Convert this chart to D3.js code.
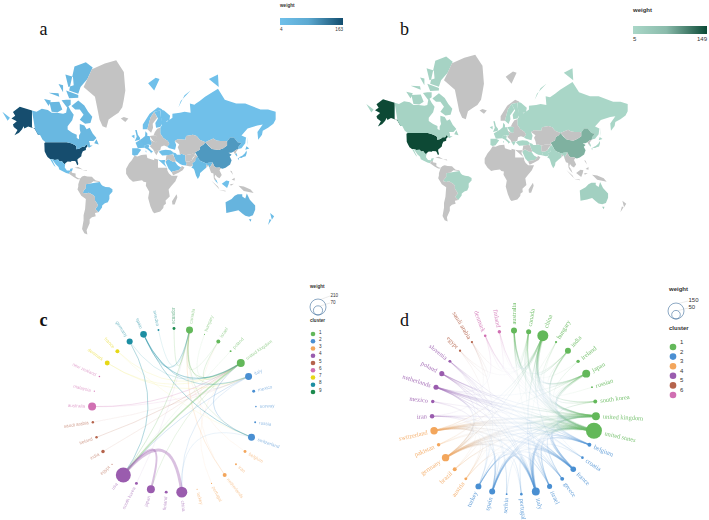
<html>
<head>
<meta charset="utf-8">
<style>
    body { margin: 0; background: #fff; }
    svg { display: block; }
    text { font-family: "Liberation Sans", sans-serif; fill: #333; }
</style>
</head>
<body>
<svg id="fig" width="709" height="520"></svg>
<script src="https://cdn.jsdelivr.net/npm/d3@7"></script>
<script>
// country outlines, lon/lat, rough by hand
let outlines = {
    "united states": [
        [[-124.7,48.4],[-123,49],[-95.2,49],[-89.5,48],[-84.5,46.5],[-82.5,45.3],[-82.5,42.5],[-79,43],[-76.5,44],[-75,45],[-71.5,45],[-69.5,47.3],[-67.5,45.5],[-70,43.5],[-70,41.7],[-74,40.6],[-75.5,38],[-76,35.5],[-78,33.9],[-81,32],[-81,30],[-80,26.8],[-80.5,25.2],[-81.8,26],[-82.8,28.5],[-84,30],[-89,30.2],[-89.5,29.2],[-94,29.6],[-97.2,27.5],[-97.3,26],[-99.5,27.5],[-101.5,29.8],[-104.5,29.6],[-106.5,31.8],[-111,31.3],[-114.8,32.5],[-117.2,32.5],[-120.5,34.5],[-122.5,37.5],[-124.3,40.5],[-124,44]],
        [[-141,69.6],[-141,60.3],[-137,58.9],[-133,55],[-130.5,55],[-135,59.5],[-140,59.8],[-146,60.8],[-151,59.5],[-152,61],[-154,59],[-158,56.5],[-164,54.6],[-160,58.5],[-165,60.5],[-166,62],[-161,64],[-168,65.6],[-163,67],[-166,68.8],[-157,71.2],[-150,70.5]]
    ],
    "canada": [
        [[-141,69.6],[-135,69],[-128,70.3],[-120,69.8],[-115,68.5],[-108,68.5],[-100,68],[-96,68.5],[-94,72],[-90,69.5],[-86,67.5],[-88,64.5],[-94,61],[-94,58.8],[-88,56.5],[-82,55],[-82,52.5],[-79,51.5],[-79,54.5],[-77,56.5],[-78,59],[-78,62.3],[-72,61.5],[-69,59],[-65,60],[-61,56],[-56,52.5],[-60,50],[-66,50],[-65,48.5],[-64.5,46],[-61,46],[-66,44],[-67.5,45.5],[-69.5,47.3],[-71.5,45],[-75,45],[-76.5,44],[-79,43],[-82.5,42.5],[-82.5,45.3],[-84.5,46.5],[-89.5,48],[-95.2,49],[-123,49],[-127,51],[-130.5,55],[-133,55],[-137,58.9],[-141,60.3]],
        [[-80,73.7],[-72,71.7],[-67,69],[-61.5,66.5],[-64,63],[-71,62.5],[-78,64.8],[-73,67.5],[-78,70],[-84,70],[-89,71.5],[-89,73.5]],
        [[-118,73],[-105,73.2],[-101,70],[-107,68.7],[-115,69],[-118,71]],
        [[-92,77],[-80,76],[-77,78],[-68,80],[-61,82.3],[-70,83.2],[-85,82.5],[-94,81]],
        [[-125,74.2],[-116,73.7],[-119,71.5],[-125,71.8]],
        [[-96,77],[-80,75.6],[-80,74.7],[-92,74.5],[-96,75]],
        [[-119,76.3],[-106,76.2],[-105,75],[-115,74.5]],
        [[-102,73.8],[-96,74],[-90,74],[-90,72],[-95,71],[-101,71.5]],
        [[-87,65.8],[-81,64],[-85,62.8]],
        [[-59,48],[-56,51.5],[-53,47],[-56,47]],
        [[-128,50.8],[-123.5,48.5],[-125,49]],
        [[-97,81],[-87,80.5],[-86,78.5],[-93,78],[-96,79]],
        [[-123,77],[-115,77.8],[-117,75.7]],
        [[-106,78.8],[-100,78.5],[-100,76.5],[-104,76.3]]
    ],
    "mexico": [
        [[-114.8,32.5],[-111,31.3],[-106.5,31.8],[-104.5,29.6],[-101.5,29.8],[-99.5,27.5],[-97.3,26],[-97.8,22.5],[-95,18.8],[-91,18.7],[-90.5,21],[-87,21.5],[-88.2,18],[-91,17],[-92.2,14.5],[-96,15.7],[-105,20],[-106,23],[-109.5,26],[-112.5,29.5]],
        [[-117.2,32.5],[-114.8,32],[-112,27],[-109.8,23],[-112,25],[-115,29]]
    ],
    "brazil": [
        [[-51.5,4],[-50,1],[-48,-1],[-44,-2.5],[-39,-3],[-35,-5.5],[-35,-9],[-39,-13],[-39,-18],[-41,-22],[-45,-23.5],[-48.5,-26],[-48.7,-28.5],[-53.4,-33.8],[-57.5,-30],[-54,-26],[-55,-24],[-58,-20],[-58,-16],[-60,-13.5],[-66,-10],[-70,-11],[-74,-10],[-73,-7.5],[-70,-4],[-70,1],[-64,2],[-60,5]]
    ],
    "russia": [
        [[28,70],[33,69.5],[41,67],[40,64.5],[35,64],[37,63.8],[44,66],[44,68],[54,68.5],[60,69],[68,68.5],[67,72.5],[73,72],[75,72.5],[80,73.5],[87,75],[104,77.5],[113,74],[128,72.5],[140,72.5],[160,70],[170,70],[180,69],[180,65],[177,62.5],[170,60],[163,58],[162,55],[157,51],[156,57],[163,62],[156,61.5],[143,59.5],[135,54.5],[141,53],[140,48],[135,43.5],[132,43],[130.5,42.5],[131,45],[135,48.4],[130,49],[125,53],[120,53],[116,49.5],[114,50],[107,50],[102,50.5],[98,52],[92,50.5],[87.5,49],[80,51],[76,54],[71,55],[62,54],[61,51],[51,51.5],[47,50],[49,46.5],[47.5,42],[40,43.5],[37,45],[40,47.5],[38,50],[32,52.5],[28,56],[28,60],[30,61.5],[29,66]],
        [[-180,69],[-175,67.5],[-170,66],[-173,64.3],[-180,65]],
        [[142,54],[143,49],[143,46],[142,47]],
        [[52,71],[55,73.5],[68,77],[60,75.5],[57,71]],
        [[92,80],[104,81],[105,78],[98,78]],
        [[137,75.5],[150,75.5],[145,74]],
        [[48,80.5],[62,81],[58,80]]
    ],
    "china": [
        [[73.8,39.5],[80,42],[80.5,45],[85,47],[87.5,49],[91,46],[96,42.8],[105,41.7],[111,43.5],[116,46],[116,49.5],[120,53],[125,53],[130,49],[135,48.4],[131,45],[130.5,42.5],[128,42],[124.5,40],[121.5,39],[118,39],[122,37],[119.5,35],[122,31],[120,26],[114,22.3],[110,21],[108,21.5],[106,22.5],[102,22],[99,24],[97,28.5],[92,28],[88,27.5],[81,30],[78.5,32.5],[77,35.5],[74.5,37]]
    ],
    "india": [
        [[74,34.5],[77,35.5],[78.5,32.5],[81,30],[88,27.5],[92,28],[97,28.5],[95,25],[92.5,22],[91.5,25],[89,26],[88.5,22],[85,19.5],[80.5,15.5],[80,12],[77.5,8],[75,12.5],[73,19],[72,21],[69,22.5],[71,24.5],[70,27.5],[74,30],[74.5,32]]
    ],
    "japan": [
        [[130.9,34],[136,36],[139.5,38.5],[141.5,41.3],[142,39],[140.5,35.5],[137,34.6],[135,33.6],[132,33.5]],
        [[130,33.5],[131.8,33.3],[131,31],[130.2,31.3]],
        [[140,42],[141.5,45.4],[145.3,43.3],[143,42]]
    ],
    "south korea": [[[126.3,37.7],[128.5,38.5],[129.5,36],[129,35],[126.3,34.5]]],
    "north korea": [[[124.5,40],[128,42],[130.5,42.5],[127.5,39.5],[128.5,38.5],[126.3,37.7],[125,38]]],
    "australia": [
        [[114,-22],[122,-18],[126,-14],[130,-12],[136,-12],[136,-15],[140,-17.5],[142,-11],[146,-19],[153,-26],[153,-31],[150,-37],[145,-38.5],[140,-37.5],[136,-35],[131,-31.5],[124,-33],[115,-34.5],[115,-30]],
        [[144.7,-41],[148,-41],[147,-43.5],[146,-43.5]]
    ],
    "new zealand": [
        [[172.7,-34.5],[178,-38],[175,-41.5],[174,-39]],
        [[172,-40.7],[174.3,-41.7],[170,-46.5],[166.7,-46]]
    ],
    "united kingdom": [[[-5,58.5],[-3,58.5],[-1.5,55],[1.5,52.5],[1,51],[-5.5,50],[-3,53.5],[-5,55]]],
    "ireland": [[[-10,54],[-6,55],[-6,52.2],[-10,51.7]]],
    "france": [[[-1.5,43.5],[-4.5,48.5],[1.5,51],[8,49],[7,44],[3,43]]],
    "spain": [[[-9,43.5],[-1.5,43.5],[3,42],[0,39],[-2,36.8],[-6,36],[-9,37],[-9.5,39]]],
    "germany": [[[1.5,51],[4,52],[8,54],[8.5,57.5],[11,56],[11,54],[14,54],[15,51],[17,48.5],[16,46.5],[12,47],[7,46],[8,49]]],
    "italy": [
        [[7,44],[7,46],[12,47],[13.7,45.5],[12.5,44],[16,41.5],[18.5,40],[16,39],[16,38],[15,40],[11,42.5],[9,44.2]],
        [[12.5,38],[15.5,38],[15,36.7]],
        [[8.3,41],[9.7,41],[9.5,39],[8.5,39]]
    ],
    "norway": [
        [[5,59],[5,62],[14,68],[25,71],[31,70],[28,69.5],[20,69],[15,66],[12,61],[11,59],[8,58]],
        [[12,79],[22,80.3],[27,80],[20,77],[15,77]]
    ],
    "sweden": [[[11,59],[12,61],[15,66],[20,69],[24,66],[18,62.5],[18.5,60],[16,56.5],[13,55.5]]],
    "finland": [[[20,69],[28,69.5],[29,66],[31,63],[28,60.5],[22.5,60],[21.5,63],[25,65.5],[24,66]]],
    "poland": [[[14,54],[19,54.5],[23.5,54],[24,50.5],[22.5,49],[19,49.5],[15,51]]],
    "eastern europe": [[[23.5,54],[19,54.5],[21,57],[24,59.3],[28,60],[28,56],[32,52.5],[38,50],[40,47.5],[37,45],[33,46],[29,45],[28,41.5],[26,41],[24,41],[20,40],[19,42],[14,45.5],[16,46.5],[17,48.5],[15,51],[19,49.5],[22.5,49],[24,50.5]]],
    "greece": [[[20,40],[24,41],[26,41],[24,38],[23,36.5],[21,38.5]]],
    "turkey": [[[26,40],[29,41.2],[35,42],[41.5,41.5],[44.7,39.7],[44.5,37.2],[36.2,36.5],[30.5,36.3],[27,37]]],
    "iran": [[[44.5,39.5],[48.5,38.5],[50,37],[54,37],[56,38],[61,36.5],[61,31],[63,27],[61.5,25],[57,25.5],[54,26.7],[50.5,29],[48.5,30],[46,35],[44.5,37.2]]],
    "pakistan": [[[74.5,37],[77,35.5],[74.5,32],[74,30],[70,27.5],[71,24.5],[67.5,23.8],[61.5,25],[63,27],[61,29.5],[66,29.5],[69.5,31],[71,34]]],
    "afghanistan": [[[61,36.5],[66,37.3],[71,38],[74.5,37],[71,34],[69.5,31],[66,29.5],[61,29.5],[61,31]]],
    "saudi arabia": [[[34.8,29.4],[38,32],[39,32],[44.5,29.2],[47.5,29],[48.5,28],[50,26],[51.5,24.5],[55.5,22.5],[52,19],[44,17.5],[43,16.5],[39,21],[37,25]]],
    "yemen oman": [[[43,16.5],[44,17.5],[52,19],[55.5,22.5],[56.3,24.5],[59.8,22.5],[57.5,19],[52,16],[45,12.8],[43.3,12.8]]],
    "iraq syria": [[[36.2,36.5],[44.5,37.2],[46,35],[48.5,30],[47.5,29],[44.5,29.2],[39,32],[38,32],[34.8,29.4],[35.5,33],[36,35]]],
    "egypt": [[[25,31.7],[29,31],[32.5,31.2],[34.3,31.3],[34,27.8],[32.7,29.7],[35.5,24],[37,22],[25,22]]],
    "africa": [
        [[-17,14.7],[-17,21],[-13,27.5],[-9.5,31],[-6,35.8],[-2,35],[3,36.8],[10,37.3],[11,33.5],[15,32.3],[20,31],[20,32.8],[25,31.7],[25,22],[37,22],[37.5,18.5],[39.5,15],[43,12],[51,12],[48,5],[42,-2],[39,-6],[40.5,-15],[35,-20],[35.5,-24],[32.5,-26],[32,-29],[28,-33],[20,-34.8],[18,-33],[15,-27],[12,-17],[13.5,-9],[9,-1],[9.5,3.5],[6,4.3],[4,6.3],[-4,5],[-8,4.3],[-13,8.5],[-17,12.5]],
        [[49.5,-12],[50.5,-16],[47,-25],[44,-25],[43.5,-21],[44.5,-16]]
    ],
    "south america": [[[-77.5,8.5],[-75,11],[-72,12],[-68,11],[-62,10.7],[-60,8.5],[-57,6],[-52,5],[-51.5,4],[-60,5],[-64,2],[-70,1],[-70,-4],[-73,-7.5],[-74,-10],[-70,-11],[-66,-10],[-60,-13.5],[-58,-16],[-58,-20],[-55,-24],[-54,-26],[-57.5,-30],[-53.4,-33.8],[-58,-34.5],[-57,-38],[-62,-39],[-65,-41],[-65,-45],[-69,-51],[-68,-54.5],[-72,-53.5],[-75,-50],[-73,-42],[-73,-37],[-71,-30],[-70,-18],[-76,-14],[-81,-6],[-80,-2],[-80,1],[-77.5,4]]],
    "central america": [
        [[-92.2,14.5],[-91,17],[-88.2,18],[-88.5,16],[-83.5,15],[-83.5,11],[-80,9],[-77.5,8.5],[-78.5,7.5],[-81,7.5],[-85.5,10],[-87.5,13]],
        [[-85,22],[-80,23],[-74,20],[-78,20]],
        [[-74.5,19.5],[-69,19.5],[-68.5,18.3],[-74,18]]
    ],
    "greenland": [[[-73,78],[-68,80],[-62,82],[-45,83],[-30,83.5],[-20,81.5],[-18,77],[-20,74],[-22,71],[-27,68.5],[-33,67],[-40,65],[-43,60],[-48,61],[-52,65],[-54,69],[-58,75],[-68,76]]],
    "iceland": [[[-24,65.5],[-20,66.3],[-14,65.5],[-18,63.5],[-22,64]]],
    "central asia": [[[47,50],[51,51.5],[61,51],[62,54],[71,55],[76,54],[80,51],[87.5,49],[85,47],[80.5,45],[80,42],[73.8,39.5],[74.5,37],[71,38],[66,37.3],[61,36.5],[56,38],[54,37],[53,41],[51,44.5],[53,47],[49,46.5]]],
    "mongolia": [[[87.5,49],[92,50.5],[98,52],[102,50.5],[107,50],[114,50],[116,49.5],[116,46],[111,43.5],[105,41.7],[96,42.8],[91,46]]],
    "southeast asia": [
        [[92.5,22],[95,25],[97,28.5],[99,24],[102,22],[106,22.5],[108,21.5],[106,19],[109,13],[106,9],[103,10.5],[100.5,13.5],[99.5,10],[102,6.5],[100,6],[98.5,9],[98,15],[95,16],[94,18.5]],
        [[88.5,22],[89,26],[91.5,25],[92.5,22]],
        [[80,9.5],[82,7],[80.5,6]]
    ],
    "malaysia": [
        [[100,6],[102,6.5],[104,1.5],[101,3]],
        [[109,1.5],[115,6],[119,5],[118,1],[116,-4],[110,-3]]
    ],
    "indonesia": [
        [[95.5,5.5],[104,-2],[106,-6],[102,-4]],
        [[105.5,-6.5],[114,-7.5],[114,-8.5],[106,-7.8]],
        [[120,1],[125,1.5],[121,-1],[123,-5],[120,-5.5]],
        [[131,-1],[138,-2],[147,-6],[151,-10.5],[143,-9],[138,-8],[133,-4]],
        [[120,18.5],[122,18],[124,13],[120,14]],
        [[122,7],[126,9.5],[126,6],[123,6.5]],
        [[120,23],[121.5,25.2],[121,22]]
    ]
};

let mapCountries = ["united states","china","canada","australia","india","united kingdom","germany","italy","france","spain","japan","brazil","russia","mexico","turkey","iran","saudi arabia","egypt","south korea","norway","finland","ireland","malaysia","greece","poland","pakistan","sweden","new zealand"];
let weightsA = [163,58,15,20,10,9,9,8,8,8,9,8,4,5,6,5,5,4,6,4,4,4,4,null,null,null,null,8];
let weightsB = [149,44,9,12,8,8,7,7,7,7,6,8,6,6,6,6,6,null,6,null,6,6,null,6,6,6,6,null];

// panel c, links take the colour of their first node
let labelsC = ["ecuador","canada","hungary","israel","poland","united kingdom","italy","mexico","norway","russia","switzerland","belgium","iran","netherlands","portugal","turkey","china","finland","japan","south korea","usa","egypt","india","ireland","saudi arabia","australia","malaysia","new zealand","denmark","france","germany","spain","sweden"];
let clusterC = [9,1,1,1,1,1,2,2,2,2,2,3,3,3,3,3,4,4,4,4,4,5,5,5,5,6,6,6,7,7,8,8,8];
let weightC = [7,40,1,13,3,52,40,7,2,3,40,7,3,13,1,1,99,7,52,7,184,1,10,5,5,52,1,2,20,13,30,36,3];
let linksC = [[20,16,3],[20,18,2],[5,20,1.5],[30,20,.9],[31,5,1.1],[31,6,.7],[31,10,.9],[30,5,.4],[31,1,.8],[1,0,.5],[1,20,.6],[1,5,.7],[1,10,.4],[1,3,.3],[1,6,.4],[10,5,.7],[5,3,.5],[5,6,.3],[5,18,.4],[6,20,.6],[6,16,.4],[25,5,.6],[25,6,.3],[23,5,.5],[22,5,.3],[28,5,.3],[28,6,.3],[29,5,.3],[29,10,.2],[13,1,.5],[13,3,.2],[14,5,.2],[11,1,.2],[2,5,.2],[4,20,.2],[32,1,.3],[24,6,.2],[19,1,.2],[10,16,.3]];

// panel d
let labelsD = ["australia","canada","china","hungary","india","ireland","japan","russian","south korea","united kingdom","united states","belgium","croatia","france","greece","israel","italy","portugal","serbia","spain","turkey","austria","brazil","germany","pakistan","switzerland","iran","mexico","netherlands","poland","slovenia","egypt","saudi arabia","denmark","finland"];
let clusterD = [1,1,1,1,1,1,1,1,1,1,1,2,2,2,2,2,2,2,2,2,2,3,3,3,3,3,4,4,4,4,4,5,5,6,6];
let weightD = [21,15,71,3,21,7,37,2,9,37,150,9,4,18,9,15,37,4,2,21,21,5,9,32,7,32,12,7,15,15,5,3,3,4,7];
let linksD = [
    [10,2,3],[10,9,4],[10,16,2.5],[10,13,2.2],[10,23,2.2],[10,19,1.8],[10,25,2.2],[10,28,1.8],[10,6,2.2],[10,0,1.3],[10,1,1.3],[10,4,1.3],[10,8,.9],[10,11,1.8],[10,15,1.3],[10,20,.9],[10,26,.7],[10,29,.9],[10,22,.9],[10,24,.5],[10,14,.7],[10,21,.5],[10,34,.4],[10,33,.4],[10,27,.4],
    [2,9,1.8],[2,6,1.3],[2,0,1.3],[2,4,.9],[2,1,.9],[2,23,.9],[2,16,1],[2,13,.9],[2,8,.9],[2,25,.9],[2,32,.3],[2,31,.3],[2,24,.5],
    [9,16,1.8],[9,13,1.8],[9,23,2],[9,19,1.3],[9,25,1.8],[9,28,1.3],[9,11,1.3],[9,0,.9],[9,1,.9],[9,6,.9],[9,4,.7],[9,14,.7],[9,15,.7],[9,20,.7],[9,29,.9],[9,5,.5],[9,34,.4],[9,33,.5],
    [16,13,1.8],[16,19,1.6],[16,23,1.6],[16,25,1.4],[16,28,1],[16,11,1.2],[16,14,1],[16,20,.9],[16,15,.9],[16,17,.7],[16,18,.5],[16,29,.9],[16,30,.7],[16,12,.6],[16,21,.6],[16,3,.4],
    [13,19,1.2],[13,23,1.6],[13,25,1.3],[13,28,1],[13,11,1.3],[13,14,.6],[13,15,.5],[13,20,.5],[13,29,.7],[13,26,.4],
    [23,25,1.3],[23,28,1.3],[23,21,.9],[23,29,.7],[23,19,.9],[23,11,.9],[23,24,.5],[23,22,.6],[23,26,.5],[23,30,.4],
    [28,11,1],[28,19,.8],[28,6,.5],[29,30,.5],[29,12,.4],[29,18,.4],[30,12,.7],[30,18,.5],[30,14,.3],
    [25,19,.9],[25,11,.9],[25,6,.6],[25,21,.5],[25,14,.4],[19,17,.8],[19,20,.7],[19,15,.7],[19,14,.6],[19,11,.7],
    [20,15,.6],[20,26,.5],[20,14,.5],[20,31,.3],[20,32,.4],[15,14,.4],[15,1,.6],[15,0,.4],
    [1,0,.7],[1,6,.4],[1,4,.4],[1,34,.3],[1,33,.3],[0,6,.6],[0,4,.6],[0,8,.3],[0,5,.3],[6,8,.8],[6,4,.5],[6,7,.3],[6,3,.2],
    [27,22,.4],[27,19,.3],[26,24,.3],[26,32,.3],[31,32,.4],[34,33,.4],[33,28,.5],[3,21,.3],[3,12,.3],[17,22,.3]
];

let clusterColors = ["#63b85a","#4a8fd2","#f3a65c","#9a5cae","#b5644c","#d06fb2","#e6d816","#1d8ea2","#1c8a4e"];
let greyLand = "#c3c3c3";

let svg = d3.select("#fig");
let defs = svg.append("defs");
let gradCount = 0;

defs.append("filter").attr("id", "soft")
    .append("feGaussianBlur").attr("stdDeviation", 0.35);

function drawMap(k, cx, cy, weights, lowColor, highColor, legend){
    let projection = d3.geoMercator().scale(k).translate([cx, cy]);
    // the outlines are planar shapes, no need for spherical clipping
    let planar = d3.geoTransform({
        point: function(x, y){
            let p = projection([x, y]);
            this.stream.point(p[0], p[1]);
        }
    });
    let path = d3.geoPath(planar);
    let color = d3.scaleLinear().domain(legend.domain).range([lowColor, highColor]);

    let features = Object.keys(outlines).map(name => ({
        type: "Feature",
        properties: { name: name },
        geometry: { type: "MultiPolygon", coordinates: outlines[name].map(p => [p]) }
    }));

    svg.append("g").attr("filter", "url(#soft)").selectAll("path")
        .data(features)
        .enter()
        .append("path")
        .attr("d", path)
        .attr("fill", d => {
            let i = mapCountries.indexOf(d.properties.name);
            return (i < 0 || weights[i] === null) ? greyLand : color(weights[i]);
        });

    // colour bar
    let id = "bar" + (gradCount++);
    let grad = defs.append("linearGradient").attr("id", id);
    grad.append("stop").attr("offset", "0%").attr("stop-color", lowColor);
    grad.append("stop").attr("offset", "45%").attr("stop-color", color(legend.domain[0] + (legend.domain[1] - legend.domain[0]) * 0.2));
    grad.append("stop").attr("offset", "100%").attr("stop-color", highColor);

    svg.append("text").attr("x", legend.x).attr("y", legend.titleY)
        .attr("font-size", legend.font).attr("font-weight", "bold").text("weight");
    svg.append("rect").attr("x", legend.x).attr("y", legend.y)
        .attr("width", legend.w).attr("height", legend.h).attr("fill", "url(#" + id + ")");
    svg.append("text").attr("x", legend.x).attr("y", legend.y + legend.h + legend.font + 1)
        .attr("font-size", legend.font).text(legend.domain[0]);
    svg.append("text").attr("x", legend.x + legend.w).attr("y", legend.y + legend.h + legend.font + 1)
        .attr("font-size", legend.font).attr("text-anchor", "end").text(legend.domain[1]);
}

function drawChord(cx, cy, R, labels, clusters, weights, links, opts){
    let angle = d3.scaleLinear().domain([0, labels.length]).range([0, 2 * Math.PI]);
    let size = d3.scaleSqrt().domain([0, opts.maxWeight]).range([0, 8]);
    let nodes = labels.map((name, i) => {
        let a = angle(i);
        return {
            name: name, a: a,
            x: cx + R * Math.sin(a),
            y: cy - R * Math.cos(a),
            r: size(weights[i]),
            color: clusterColors[clusters[i] - 1]
        };
    });

    let g = svg.append("g").attr("filter", "url(#soft)");

    // thin ones first so the heavy links stay on top
    let sorted = links.slice().sort((a, b) => a[2] - b[2]);
    sorted.forEach(l => {
        let s = nodes[l[0]], t = nodes[l[1]];
        let stroke = s.color, strokeOpacity = opts.endOpacity;
        if(opts.fade){
            let id = "lk" + (gradCount++);
            let grad = defs.append("linearGradient").attr("id", id)
                .attr("gradientUnits", "userSpaceOnUse")
                .attr("x1", s.x).attr("y1", s.y).attr("x2", t.x).attr("y2", t.y);
            grad.append("stop").attr("offset", "0%").attr("stop-color", s.color).attr("stop-opacity", opts.endOpacity);
            grad.append("stop").attr("offset", "50%").attr("stop-color", opts.midColor).attr("stop-opacity", opts.midOpacity);
            grad.append("stop").attr("offset", "100%").attr("stop-color", t.color).attr("stop-opacity", opts.endOpacity);
            stroke = "url(#" + id + ")";
            strokeOpacity = 1;
        }

        // control point a bit short of the centre, keeps the arcs round
        let mx = (s.x + t.x) / 2, my = (s.y + t.y) / 2;
        let p = d3.path();
        p.moveTo(s.x, s.y);
        p.quadraticCurveTo(cx + (mx - cx) * 0.1, cy + (my - cy) * 0.1, t.x, t.y);
        g.append("path")
            .attr("d", p.toString())
            .attr("fill", "none")
            .attr("stroke", stroke)
            .attr("stroke-opacity", strokeOpacity)
            .attr("stroke-width", l[2]);
    });

    g.selectAll("circle")
        .data(nodes)
        .enter()
        .append("circle")
        .attr("cx", d => d.x)
        .attr("cy", d => d.y)
        .attr("r", d => d.r)
        .attr("fill", d => d.color);

    svg.append("g").selectAll("text")
        .data(nodes)
        .enter()
        .append("text")
        .attr("transform", d => {
            let deg = d.a * 180 / Math.PI - 90;
            let off = R + d.r + 3;
            let x = cx + off * Math.sin(d.a), y = cy - off * Math.cos(d.a);
            if(d.a > Math.PI) deg += 180;
            return "translate(" + x + "," + y + ") rotate(" + deg + ")";
        })
        .attr("text-anchor", d => d.a > Math.PI ? "end" : "start")
        .attr("dy", "0.32em")
        .attr("font-size", opts.labelSize)
        .attr("opacity", opts.labelOpacity)
        .style("font-family", opts.labelFont)
        .style("fill", d => d.color)
        .text(d => d.name);
}

function drawClusterLegend(l){
    svg.append("text").attr("x", l.x).attr("y", l.titleY)
        .attr("font-size", l.font).attr("font-weight", "bold").text("weight");
    let cy = l.sizeY;
    [l.big, l.small].forEach((r, i) => {
        svg.append("circle").attr("cx", l.sizeX).attr("cy", cy - r)
            .attr("r", r).attr("fill", "none").attr("stroke", "#3f6f9c").attr("stroke-width", 0.6);
        svg.append("line")
            .attr("x1", l.sizeX + r * 0.4).attr("y1", cy - 2 * r + 0.3)
            .attr("x2", l.sizeX + l.big + 4).attr("y2", l.valueY[i] - 1)
            .attr("stroke", "#bbb").attr("stroke-width", 0.3);
        svg.append("text").attr("x", l.sizeX + l.big + 4.5).attr("y", l.valueY[i])
            .attr("font-size", l.font).text(l.values[i]);
    });
    svg.append("text").attr("x", l.x).attr("y", l.clusterY)
        .attr("font-size", l.font).attr("font-weight", "bold").text("cluster");

    let rows = d3.scaleLinear().domain([0, 1]).range([l.rowY, l.rowY + l.rowStep]);
    d3.range(l.count).forEach(i => {
        svg.append("circle").attr("cx", l.dotX).attr("cy", rows(i))
            .attr("r", l.dotR).attr("fill", clusterColors[i]);
        svg.append("text").attr("x", l.numX).attr("y", rows(i) + l.numDy)
            .attr("font-size", l.font).text(i + 1);
    });
}

drawMap(43.5, 139, 185, weightsA, "#6fc0ea", "#124d6e",
    { domain: [4, 163], x: 280, titleY: 6.5, y: 18, w: 63, h: 7, font: 4.6 });
drawMap(41.6, 497, 174, weightsB, "#aad7c8", "#0b4a36",
    { domain: [5, 149], x: 633, titleY: 12, y: 26, w: 74, h: 8, font: 6 });

drawChord(174, 410.5, 82, labelsC, clusterC, weightC, linksC, {
    maxWeight: 210, labelSize: 4.6, labelFont: "Liberation Sans",
    labelOpacity: 0.6, endOpacity: 0.38, fade: false
});
drawChord(514, 412.5, 82, labelsD, clusterD, weightD, linksD, {
    maxWeight: 150, labelSize: 6.4, labelFont: "Liberation Serif",
    labelOpacity: 0.85, endOpacity: 0.32, fade: true, midColor: "#b4cdea", midOpacity: 0.18
});

drawClusterLegend({ x: 310, titleY: 288, font: 4.6, sizeX: 318, sizeY: 315, big: 8, small: 4.6,
    values: [210, 70], valueY: [297, 304], clusterY: 322, dotX: 313, dotR: 2.3, numX: 319, numDy: -0.5,
    rowY: 334, rowStep: 7.25, count: 9 });
drawClusterLegend({ x: 669, titleY: 290.5, font: 6, sizeX: 676, sizeY: 319, big: 8, small: 4.3,
    values: [150, 50], valueY: [302, 309], clusterY: 330, dotX: 673, dotR: 3.3, numX: 680, numDy: -3,
    rowY: 347, rowStep: 9.6, count: 6 });

[["a", 39.5, 35, "normal"], ["b", 400, 35, "normal"], ["c", 39.5, 326, "bold"], ["d", 400, 326, "normal"]].forEach(p => {
    svg.append("text").attr("x", p[1]).attr("y", p[2])
        .attr("font-size", 18).attr("font-weight", p[3])
        .style("font-family", "Liberation Serif").style("fill", "#111")
        .text(p[0]);
});
</script>
</body>
</html>
